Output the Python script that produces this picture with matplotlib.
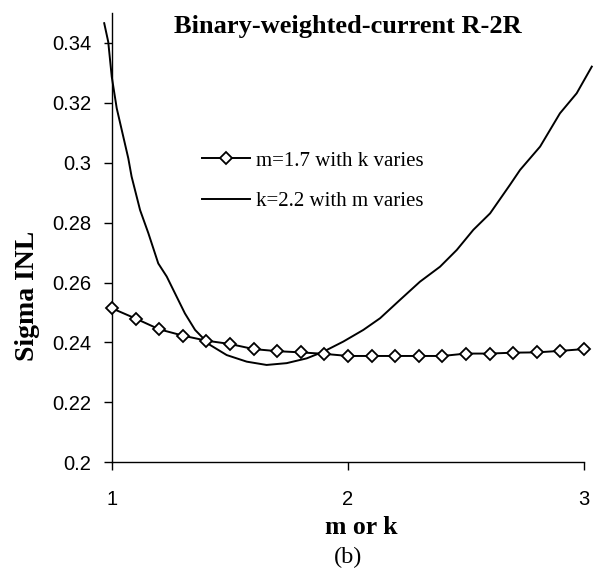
import matplotlib
matplotlib.use("Agg")
import matplotlib.pyplot as plt

# Series 1: m=1.7 with k varies (diamond markers)
k_values = [1.0, 1.1, 1.2, 1.3, 1.4, 1.5, 1.6, 1.7, 1.8, 1.9, 2.0,
            2.1, 2.2, 2.3, 2.4, 2.5, 2.6, 2.7, 2.8, 2.9, 3.0]
inl_k = [0.2514, 0.2480, 0.2444, 0.2423, 0.2406, 0.2395, 0.2378, 0.2371,
         0.2367, 0.2362, 0.2355, 0.2355, 0.2355, 0.2355, 0.2355, 0.2363,
         0.2363, 0.2366, 0.2367, 0.2372, 0.2378]

# Series 2: k=2.2 with m varies (solid line)
m_values = [0.967, 0.984, 0.999, 1.020, 1.069, 1.083, 1.119, 1.154, 1.196,
            1.232, 1.267, 1.309, 1.352, 1.394, 1.415, 1.486, 1.571, 1.655,
            1.740, 1.825, 1.895, 1.980, 2.065, 2.136, 2.220, 2.305, 2.390,
            2.461, 2.531, 2.602, 2.686, 2.729, 2.814, 2.898, 2.969, 3.033]
inl_m = [0.3466, 0.3404, 0.3287, 0.3182, 0.3015, 0.2954, 0.2842, 0.2765,
         0.2664, 0.2620, 0.2564, 0.2497, 0.2442, 0.2408, 0.2392, 0.2358,
         0.2336, 0.2325, 0.2331, 0.2347, 0.2369, 0.2403, 0.2442, 0.2481,
         0.2542, 0.2603, 0.2653, 0.2709, 0.2776, 0.2831, 0.2926, 0.2976,
         0.3054, 0.3165, 0.3232, 0.3321]

x_ticks = [1, 2, 3]
x_tick_labels = ["1", "2", "3"]
y_ticks = [0.2, 0.22, 0.24, 0.26, 0.28, 0.3, 0.32, 0.34]
y_tick_labels = ["0.2", "0.22", "0.24", "0.26", "0.28", "0.3", "0.32", "0.34"]

title = "Binary-weighted-current R-2R"
label_k = "m=1.7 with k varies"
label_m = "k=2.2 with m varies"

serif = ["Liberation Serif", "DejaVu Serif"]
sans = ["Liberation Sans", "DejaVu Sans"]

fig = plt.figure(figsize=(6.01, 5.80), dpi=100)
ax = fig.add_axes([112/601, 1-462.3/580, (584-112)/601, (462.3-13)/580])

ax.plot(k_values, inl_k, color="black", lw=1.4, marker="D", markersize=5.8,
        markerfacecolor="white", markeredgecolor="black", markeredgewidth=1.3,
        label=label_k, clip_on=False, zorder=3)
ax.plot(m_values, inl_m, color="black", lw=1.4, label=label_m, clip_on=False, zorder=2)

ax.set_xlim(1, 3)
ax.set_ylim(0.2, 0.35)
ax.set_xticks(x_ticks)
ax.set_xticklabels(x_tick_labels, fontfamily=sans, fontsize=14.5)
ax.set_yticks(y_ticks)
ax.set_yticklabels(y_tick_labels, fontfamily=sans, fontsize=14.5)
ax.tick_params(direction="out", length=6, width=1.0, color="black")
ax.tick_params(axis="x", pad=14)
ax.tick_params(axis="y", pad=9)
for s in ["top", "right"]:
    ax.spines[s].set_visible(False)
for s in ["left", "bottom"]:
    ax.spines[s].set_linewidth(1.0)

fig.text(348/601, 1-26/580, title, fontfamily=serif, fontweight="bold", fontsize=19,
         ha="center", va="center")
fig.text(27/601, 1-296/580, "Sigma INL", fontfamily=serif, fontweight="bold", fontsize=20,
         ha="center", va="center", rotation=90)
fig.text(361/601, 1-527/580, "m or k", fontfamily=serif, fontweight="bold", fontsize=18.5,
         ha="center", va="center")
fig.text(348/601, 1-557/580, "(b)", fontfamily=serif, fontsize=17.5, ha="center", va="center")

leg = ax.legend(loc="upper left", bbox_to_anchor=(0.19, 0.693), frameon=False,
                prop={"family": serif, "size": 15}, handlelength=2.3,
                handletextpad=0.33, labelspacing=1.0, borderpad=0, borderaxespad=0)

fig.savefig("out.png", dpi=100)
